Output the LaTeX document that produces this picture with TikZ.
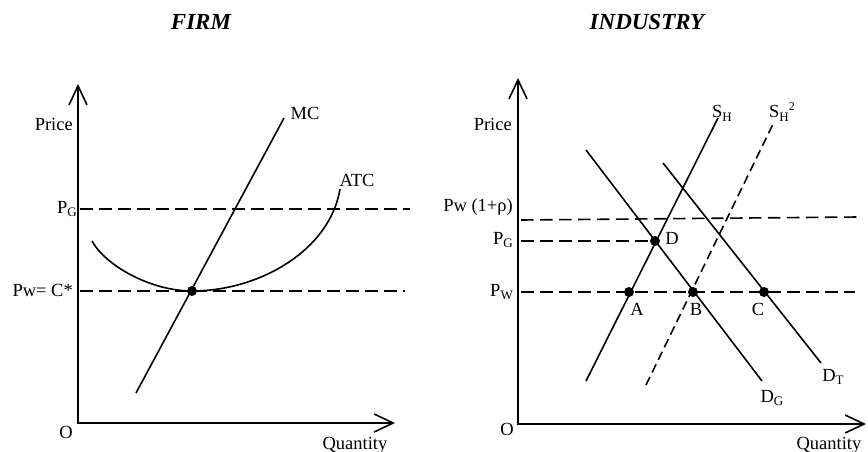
\documentclass[tikz,border=0pt]{standalone}
\usepackage{fontspec}
\setmainfont{Liberation Serif}
\usetikzlibrary{arrows.meta}
\newcommand\lowsub[1]{\raisebox{-0.45ex}{\fontsize{13}{13}\selectfont #1}}
\newcommand\hisup[1]{\raisebox{0.85ex}{\fontsize{12}{12}\selectfont #1}}
\begin{document}
\begin{tikzpicture}[x=1pt,y=-1pt,
  lbl/.style={font=\fontsize{18.5}{20}\selectfont, inner sep=0pt},
  ttl/.style={font=\fontsize{23}{26}\selectfont\bfseries\itshape, inner sep=0pt},
  axisln/.style={line width=2pt, {Straight Barb[length=19pt,width=18pt,line width=1.6pt]}-{Straight Barb[length=19pt,width=18pt,line width=1.6pt]}},
  curveln/.style={line width=1.6pt},
  dashln/.style={line width=1.6pt, dash pattern=on 12.5pt off 6.5pt},
  dashsup/.style={line width=1.6pt, dash pattern=on 9pt off 5pt},
  dotnode/.style={circle, fill=black, inner sep=0pt, minimum size=10pt}
]
\useasboundingbox (0,0) rectangle (868,452);

% ================= FIRM =================
\node[ttl] (tf) at (201,22) {FIRM};
\coordinate (fO) at (78,423);
\coordinate (fYt) at (78,84);
\coordinate (fXt) at (395,423);
\draw[axisln] (fYt) -- (fO) -- (fXt);
\node[lbl, anchor=east] (fprice) at (73,124) {Price};
\node[lbl] (fo) at (66,432) {O};
\node[lbl] (fq) at (355,445) {Quantity};

% dashed price lines
\coordinate (fpgL) at (80,209);
\coordinate (fpgR) at (410,209);
\coordinate (fpwL) at (80,291);
\coordinate (fpwR) at (405,291);
\draw[dashln] (fpgL) -- (fpgR);
\draw[dashln] (fpwL) -- (fpwR);
\node[lbl, anchor=east] (fpg) at (77,209) {P\lowsub{G}};
\node[lbl, anchor=east] (fpw) at (73,290) {Pw= C*};

% MC
\coordinate (mcA) at (136,393);
\coordinate (mcB) at (284,118);
\draw[curveln] (mcA) -- (mcB);
\node[lbl] (mc) at (305,113) {MC};

% ATC
\coordinate (atcA) at (92,241);
\coordinate (atcM) at (192,291);
\coordinate (atcB) at (340,189);
\draw[curveln] (atcA) .. controls (105,265) and (150,291) .. (atcM)
  .. controls (260,291) and (330,250) .. (atcB);
\node[lbl] (atc) at (357,180) {ATC};
\node[dotnode] (fdot) at (atcM) {};

% ================= INDUSTRY =================
\node[ttl] (ti) at (647,22) {INDUSTRY};
\coordinate (iO) at (518,424);
\coordinate (iYt) at (518,78);
\coordinate (iXt) at (866,424);
\draw[axisln] (iYt) -- (iO) -- (iXt);
\node[lbl, anchor=east] (iprice) at (512,124) {Price};
\node[lbl] (io) at (507,429) {O};
\node[lbl] (iq) at (829,445) {Quantity};

% dashed lines
\coordinate (irhoL) at (521,220);
\coordinate (irhoR) at (858,217);
\draw[dashln] (irhoL) -- (irhoR);
\node[lbl, anchor=east] (irho) at (513,207) {Pw (1+ρ)};

\node[dotnode] (D) at (655,241) {};
\node[dotnode] (A) at (629,292) {};
\node[dotnode] (B) at (693,292) {};
\node[dotnode] (C) at (764,292) {};

\coordinate (ipgL) at (521,241);
\draw[dashln] (ipgL) -- (D.center);
\node[lbl, anchor=east] (ipg) at (513,240) {P\lowsub{G}};

\coordinate (ipwL) at (521,292);
\coordinate (ipwR) at (855,292);
\draw[dashln] (ipwL) -- (ipwR);
\node[lbl, anchor=east] (ipw) at (513,292) {P\lowsub{W}};

% supply curves
\coordinate (shA) at (586,381);
\coordinate (shB) at (718,118);
\draw[curveln] (shA) -- (shB);
\node[lbl] (sh) at (722,113) {S\lowsub{H}};

\coordinate (sh2A) at (646,385);
\coordinate (sh2B) at (774,122);
\draw[dashsup] (sh2A) -- (sh2B);
\node[lbl] (sh2) at (782,112) {S\lowsub{H}\hisup{2}};

% demand curves
\coordinate (dgA) at (586,150);
\coordinate (dgB) at (762,381);
\draw[curveln] (dgA) -- (dgB);
\node[lbl] (dg) at (772,398) {D\lowsub{G}};

\coordinate (dtA) at (663,163);
\coordinate (dtB) at (821,363);
\draw[curveln] (dtA) -- (dtB);
\node[lbl] (dt) at (833,377) {D\lowsub{T}};

% point labels
\node[lbl] (lD) at (672,238) {D};
\node[lbl] (lA) at (637,309) {A};
\node[lbl] (lB) at (696,309) {B};
\node[lbl] (lC) at (758,309) {C};
\end{tikzpicture}
\end{document}
